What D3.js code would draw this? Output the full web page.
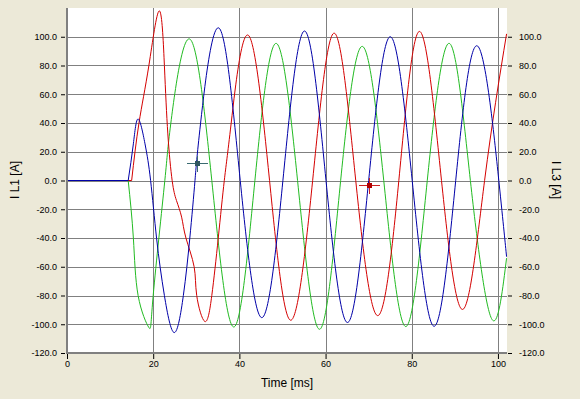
<!DOCTYPE html>
<html lang="en">
<head>
<meta charset="UTF-8">
<title>I L1 / I L3</title>
<script src="https://d3js.org/d3.v7.min.js"></script>
<style>
  body { margin: 0; background: #ECE9D8; }
  svg { display: block; font-family: "Liberation Sans", Arial, sans-serif; }
  .tick text { font-size: 9px; fill: #000; }
  .tick line { stroke: #000; }
</style>
</head>
<body>
<svg id="chart" width="580" height="399"></svg>
<script>
// values (time in ms, current in A)
const xTicks = [0, 20, 40, 60, 80, 100];
const yTicks = [-120, -100, -80, -60, -40, -20, 0, 20, 40, 60, 80, 100];

// blue trace (I L1)
const timeL1 = [0, 14.2, 15.4, 16.5, 18.1, 19.4, 20.8, 22.6, 24.9, 27.0, 28.5, 29.7, 31.0, 35.3,
  40.2, 45.2, 50.1, 55.1, 60.1, 65.1, 70.0, 75.0, 80.1, 85.2, 90.2, 95.3, 100.2, 102.0];
const currentL1 = [0, 0, 25.5, 42.8, 25.5, 0, -40.5, -80, -105.8, -80, -40, 0, 40, 106,
  0, -95.4, 0, 104, 0, -98.8, 0, 100, 0, -101.4, 0, 93.5, 0, -53];

// red trace
const timeL2 = [0, 15.0, 16.7, 19.0, 21.4, 22.6, 23.4, 24.4, 25.4, 26.6, 27.6, 29.5, 30.1, 32.0,
  33.6, 35.1, 36.5, 38.1, 42.1, 47.0, 51.9, 57.0, 62.0, 67.0, 72.1, 77.0, 81.8, 86.9, 91.9, 96.9, 102.0];
const currentL2 = [0, 0, 40, 80, 118, 80, 32.4, 0, -13.9, -25.5, -40, -60, -80, -98.1,
  -80, -40, 0, 40, 101, 0, -97.2, 0, 102.5, 0, -94, 0, 103.7, 0, -89.6, 0, 102];

// green trace (I L3)
const timeL3 = [0, 14.2, 15.4, 16.5, 19.0, 20.0, 22.7, 24.1, 28.5, 33.6, 38.7, 43.6, 48.5, 53.5,
  58.6, 63.5, 68.5, 73.5, 78.6, 83.6, 88.7, 93.6, 98.5, 102.0];
const currentL3 = [0, 0, -40, -80, -102.3, -80, 0, 40, 98.4, 0, -101.9, 0, 95.4, 0,
  -103.5, 0, 93.3, 0, -101.6, 0, 95.4, 0, -96, -54];

// cursor markers
const cursorTime = [30.2, 70.1];
const cursorCurrent = [12.5, -3];

const svg = d3.select("#chart");
const plotLeft = 67, plotRight = 507, plotTop = 8, plotBottom = 353;

const x = d3.scaleLinear().domain([0, 102.1]).range([plotLeft, plotRight]);
const y = d3.scaleLinear().domain([-120, 120]).range([plotBottom, plotTop]);

// plot area
svg.append("rect")
  .attr("x", plotLeft).attr("y", plotTop)
  .attr("width", plotRight - plotLeft).attr("height", plotBottom - plotTop)
  .attr("fill", "#fff");

// grid
svg.append("g").selectAll("line").data(yTicks).join("line")
  .attr("x1", plotLeft).attr("x2", plotRight)
  .attr("y1", d => Math.round(y(d)) + 0.5).attr("y2", d => Math.round(y(d)) + 0.5)
  .attr("stroke", "#808080");
svg.append("g").selectAll("line").data(xTicks.slice(1)).join("line")
  .attr("x1", d => Math.round(x(d)) + 0.5).attr("x2", d => Math.round(x(d)) + 0.5)
  .attr("y1", plotTop).attr("y2", plotBottom)
  .attr("stroke", "#808080");

// traces
const traces = [
  { t: timeL3, v: currentL3, color: "#22BB22" },
  { t: timeL2, v: currentL2, color: "#D40000" },
  { t: timeL1, v: currentL1, color: "#0000A8" }
];
const flat = d3.line().x(d => x(d[0])).y(d => y(d[1]));
const wave = d3.line().x(d => x(d[0])).y(d => y(d[1])).curve(d3.curveNatural);
traces.forEach(tr => {
  const pts = tr.t.map((t, i) => [t, tr.v[i]]);
  const g = svg.append("g").attr("fill", "none").attr("stroke", tr.color).attr("stroke-width", 1);
  g.append("path").attr("d", flat(pts.slice(0, 2)));
  g.append("path").attr("d", wave(pts.slice(1)));
});

// cursors
const cursorColors = [{ line: "#3A6A70", box: "#2F5560" }, { line: "#CC2020", box: "#B00000" }];
cursorTime.forEach((t, i) => {
  const cx = Math.round(x(t)), cy = Math.round(y(cursorCurrent[i]));
  const g = svg.append("g");
  g.append("line").attr("x1", cx - 10).attr("x2", cx + 11).attr("y1", cy + 0.5).attr("y2", cy + 0.5)
    .attr("stroke", cursorColors[i].line);
  g.append("line").attr("x1", cx + 0.5).attr("x2", cx + 0.5).attr("y1", cy - 7).attr("y2", cy + 9)
    .attr("stroke", cursorColors[i].line);
  g.append("rect").attr("x", cx - 2).attr("y", cy - 2).attr("width", 5).attr("height", 5)
    .attr("fill", cursorColors[i].box);
});

// axes
const fmt = d => d.toFixed(1);
svg.append("g").attr("transform", `translate(${plotLeft - 2},0)`)
  .call(d3.axisLeft(y).tickValues(yTicks).tickFormat(fmt).tickSize(4).tickPadding(4))
  .call(g => g.select(".domain").remove());
svg.append("g").attr("transform", `translate(${plotRight + 1},0)`)
  .call(d3.axisRight(y).tickValues(yTicks).tickFormat(fmt).tickSize(4).tickPadding(7))
  .call(g => g.select(".domain").remove());
svg.append("g").attr("transform", `translate(0,${plotBottom + 1})`)
  .call(d3.axisBottom(x).tickValues(xTicks).tickFormat(d3.format("d")).tickSize(5).tickPadding(2))
  .call(g => g.select(".domain").remove());

// axis lines
svg.append("line").attr("x1", plotLeft).attr("x2", plotLeft).attr("y1", plotTop).attr("y2", plotBottom + 1)
  .attr("stroke", "#808080").attr("stroke-width", 2);
svg.append("line").attr("x1", plotLeft - 1).attr("x2", plotRight).attr("y1", plotBottom).attr("y2", plotBottom)
  .attr("stroke", "#808080").attr("stroke-width", 2);

// titles
svg.append("text").attr("x", 287).attr("y", 387).attr("text-anchor", "middle")
  .attr("font-size", 12).text("Time [ms]");
svg.append("text").attr("transform", "translate(19,180) rotate(-90)").attr("text-anchor", "middle")
  .attr("font-size", 12).text("I L1 [A]");
svg.append("text").attr("transform", "translate(552,180) rotate(90)").attr("text-anchor", "middle")
  .attr("font-size", 12).text("I L3 [A]");
</script>
</body>
</html>
